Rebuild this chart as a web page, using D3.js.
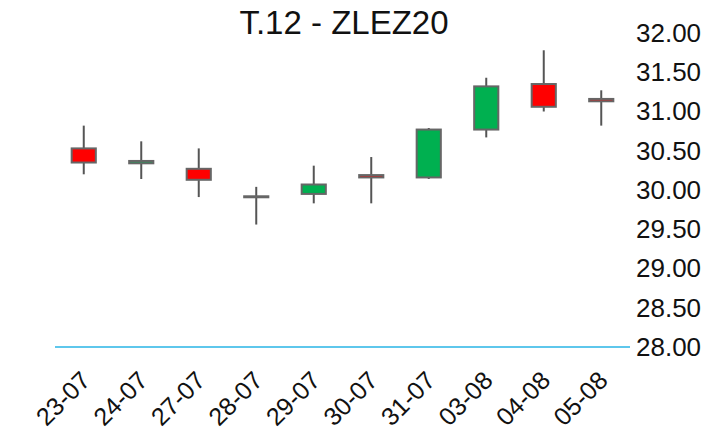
<!DOCTYPE html>
<html>
<head>
<meta charset="utf-8">
<script src="https://cdn.jsdelivr.net/npm/d3@7"></script>
<style>
  body { margin: 0; background: #fff; }
  text { font-family: "Liberation Sans", Arial, sans-serif; }
</style>
</head>
<body>
<svg id="chart" width="707" height="427"></svg>
<script>
// daily candles
let dates  = ["23-07", "24-07", "27-07", "28-07", "29-07", "30-07", "31-07", "03-08", "04-08", "05-08"]
let opens  = [30.53, 30.34, 30.27, 29.92, 29.95, 30.19, 30.16, 30.77, 31.35, 31.16]
let closes = [30.35, 30.37, 30.13, 29.92, 30.07, 30.16, 30.77, 31.32, 31.06, 31.13]
let highs  = [30.82, 30.62, 30.53, 30.04, 30.31, 30.42, 30.79, 31.43, 31.78, 31.27]
let lows   = [30.20, 30.14, 29.91, 29.56, 29.83, 29.83, 30.14, 30.67, 31.00, 30.82]
let y_ticks = [28, 28.5, 29, 29.5, 30, 30.5, 31, 31.5, 32]
let title_text = "T.12 - ZLEZ20"

window.onload = function() {
  let svg = d3.select("#chart")

  let x = d3.scaleBand().domain(dates).range([55, 630]).padding(0)
  let y = d3.scaleLinear().domain([28, 32]).range([347, 33])
  let body_w = x.bandwidth() * 0.42

  svg.append("text")
    .attr("x", 344)
    .attr("y", 34)
    .attr("text-anchor", "middle")
    .attr("font-size", 33)
    .attr("fill", "#111")
    .text(title_text)

  // baseline at the bottom of the value range
  svg.append("line")
    .attr("x1", 55).attr("x2", 630)
    .attr("y1", y(28)).attr("y2", y(28))
    .attr("stroke", "#29b4e6")
    .attr("stroke-width", 1.5)

  // right hand value axis, ticks hidden
  let y_axis = svg.append("g")
    .attr("transform", "translate(630,0)")
    .call(d3.axisRight(y).tickValues(y_ticks).tickFormat(d3.format(".2f")).tickSize(0).tickPadding(6))
  y_axis.select(".domain").remove()
  y_axis.selectAll("text")
    .attr("font-size", 26)
    .attr("fill", "#111")
    .attr("font-family", "Liberation Sans, Arial, sans-serif")

  // rotated date labels (the bottom of them runs off the picture, as in the original)
  svg.append("g").selectAll("text")
    .data(dates)
    .join("text")
    .attr("transform", d => `translate(${x(d) + x.bandwidth() / 2 + 8},382) rotate(-45)`)
    .attr("text-anchor", "end")
    .attr("font-size", 25)
    .attr("fill", "#111")
    .text(d => d)

  let candles = d3.range(dates.length).map(i => ({
    date: dates[i], open: opens[i], close: closes[i], high: highs[i], low: lows[i]
  }))

  let g = svg.append("g")
  g.selectAll("line.wick")
    .data(candles)
    .join("line")
    .attr("class", "wick")
    .attr("x1", d => x(d.date) + x.bandwidth() / 2)
    .attr("x2", d => x(d.date) + x.bandwidth() / 2)
    .attr("y1", d => y(d.high))
    .attr("y2", d => y(d.low))
    .attr("stroke", "#555")
    .attr("stroke-width", 2)

  g.selectAll("rect.body")
    .data(candles)
    .join("rect")
    .attr("class", "body")
    .attr("x", d => x(d.date) + x.bandwidth() / 2 - body_w / 2)
    .attr("width", body_w)
    .attr("y", d => y(Math.max(d.open, d.close)))
    .attr("height", d => Math.max(Math.abs(y(d.open) - y(d.close)), 1))
    .attr("fill", d => d.close > d.open ? "#00b050" : (d.close < d.open ? "#ff0000" : "#666"))
    .attr("stroke", "#666")
    .attr("stroke-width", 2)
}
</script>
</body>
</html>
